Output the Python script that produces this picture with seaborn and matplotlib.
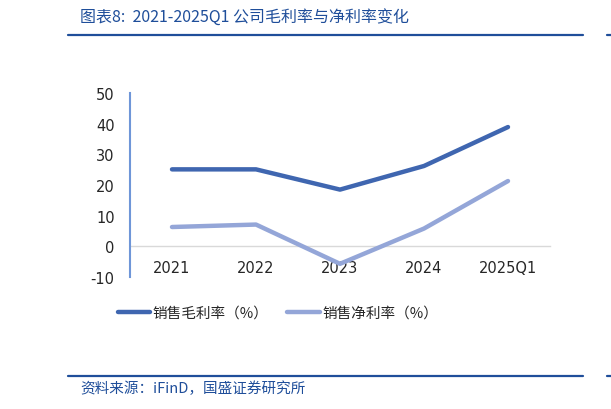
import numpy as np
import pandas as pd
import matplotlib
matplotlib.use("Agg")
import matplotlib.pyplot as plt
from matplotlib.lines import Line2D
import seaborn as sns

# ---------------- data ----------------
years = ["2021", "2022", "2023", "2024", "2025Q1"]
gross_margin = [25.1, 25.1, 18.5, 26.2, 38.9]
net_margin = [6.3, 7.1, -5.7, 5.8, 21.3]
series_names = ["销售毛利率（%）", "销售净利率（%）"]
y_ticks = [-10, 0, 10, 20, 30, 40, 50]

df = pd.DataFrame({
    "year": years * 2,
    "value": gross_margin + net_margin,
    "series": [series_names[0]] * len(years) + [series_names[1]] * len(years),
})

# ---------------- style ----------------
sns.set_style("white")
cjk = ["Noto Sans CJK SC", "DejaVu Sans"]
plt.rcParams["font.family"] = cjk
plt.rcParams["axes.unicode_minus"] = False

dark_blue = "#3F66B0"
light_blue = "#94A6D8"
rule_blue = "#1F4E9A"
spine_blue = "#6F96D8"

fig = plt.figure(figsize=(6.11, 4.10), dpi=100)
ax = fig.add_axes([130 / 611, 1 - 278 / 410, 420 / 611, 184 / 410])

sns.lineplot(data=df, x="year", y="value", hue="series", sort=False,
             palette=[dark_blue, light_blue], linewidth=3.2, ax=ax,
             legend=False)
for ln in ax.lines:
    ln.set_solid_capstyle("round")
    ln.set_solid_joinstyle("round")

ax.set_xlim(-0.5, len(years) - 0.5)
ax.set_ylim(-10, 50)
ax.set_yticks(y_ticks)
ax.set_xlabel("")
ax.set_ylabel("")

for s in ["top", "right"]:
    ax.spines[s].set_visible(False)
ax.spines["bottom"].set_position(("data", 0))
ax.spines["bottom"].set_color("#D9D9D9")
ax.spines["bottom"].set_linewidth(1)
ax.spines["bottom"].set_zorder(0)
ax.spines["left"].set_color(spine_blue)
ax.spines["left"].set_linewidth(1.5)

ax.tick_params(axis="x", length=0, pad=10, labelsize=10.5, labelfontfamily="DejaVu Sans")
ax.tick_params(axis="y", direction="in", length=3.6, width=1.5, color=spine_blue,
               pad=11, labelsize=10.5, labelfontfamily="DejaVu Sans")

# ---------------- legend ----------------
handles = [Line2D([], [], color=dark_blue, lw=3.2, solid_capstyle="round"),
           Line2D([], [], color=light_blue, lw=3.2, solid_capstyle="round")]
fig.legend(handles, series_names, loc="center", bbox_to_anchor=(278 / 611, 1 - 314 / 410),
           ncol=2, frameon=False, fontsize=10.5, handlelength=2.2,
           handletextpad=0.2, columnspacing=1.3)

# ---------------- header / footer ----------------
fig.text(80 / 611, 1 - 17 / 410, "图表8:  2021-2025Q1 公司毛利率与净利率变化",
         ha="left", va="center", fontsize=11.5, style="italic", color=rule_blue,
         family=cjk)
fig.add_artist(Line2D([68 / 611, 583 / 611], [1 - 35.5 / 410] * 2, color=rule_blue, lw=1.6))
fig.add_artist(Line2D([607 / 611, 1.0], [1 - 35.5 / 410] * 2, color=rule_blue, lw=1.6))
fig.add_artist(Line2D([68 / 611, 583 / 611], [1 - 377 / 410] * 2, color=rule_blue, lw=1.6))
fig.add_artist(Line2D([607 / 611, 1.0], [1 - 377 / 410] * 2, color=rule_blue, lw=1.6))
fig.text(80 / 611, 1 - 389 / 410, "资料来源：iFinD，国盛证券研究所",
         ha="left", va="center", fontsize=10.5, style="italic", color=rule_blue,
         family=cjk)

fig.savefig("out.png", dpi=100)
